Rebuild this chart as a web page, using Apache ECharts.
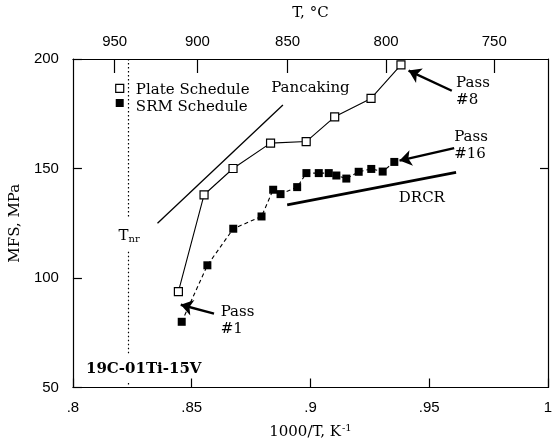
<!DOCTYPE html>
<html>
<head>
<meta charset="utf-8">
<script src="https://cdn.jsdelivr.net/npm/echarts@6.0.0/dist/echarts.min.js"></script>
<style>
  html, body { margin: 0; padding: 0; background: #fff; }
  #chart { width: 556px; height: 445px; }
</style>
</head>
<body>
<div id="chart"></div>
<script>
// 数据
var plateSchedule = [[0.8444, 93.8], [0.8552, 138], [0.8674, 150], [0.8832, 161.6],
  [0.8982, 162.3], [0.9102, 173.6], [0.9255, 182], [0.9381, 197.3]];
var srmSchedule = [[0.8458, 80], [0.8566, 105.8], [0.8675, 122.5], [0.8794, 128.1],
  [0.8843, 140.3], [0.8874, 138.3], [0.8944, 141.5], [0.8983, 147.9], [0.9035, 147.9],
  [0.9077, 147.9], [0.9109, 146.8], [0.9151, 145.4], [0.9203, 148.5], [0.9256, 149.8],
  [0.9304, 148.6], [0.9353, 153]];
var pancakingLine = [[0.8356, 125], [0.8884, 179]];
var drcrLine = [[0.8902, 133.4], [0.9613, 148.2]];
var tnrX = 0.8235;
var tnrSegments = [[200, 127], [112, 65], [52, 50]];
var tempTicks = [950, 900, 850, 800, 750];
var arrows = [
  [[0.9595, 185.5], [0.9413, 194.7]],
  [[0.9605, 159.3], [0.9375, 153.6]],
  [[0.8594, 83.7], [0.8454, 87.8]]
];

var tempPos = tempTicks.map(function (t) { return 1000 / (t + 273.15); });
var serif = 'DejaVu Serif';
var sans = 'Liberation Sans';

var chart = echarts.init(document.getElementById('chart'));

function note(name, x, y, pos, extra) {
  return Object.assign({ name: name, value: [x, y], label: { position: pos } }, extra || {});
}

var option = {
  animation: false,
  grid: { left: 72, right: 8, top: 59, bottom: 57 },
  xAxis: [
    {
      type: 'value', min: 0.8, max: 1.0, interval: 0.05, position: 'bottom',
      axisLine: { lineStyle: { color: '#000', width: 1.2 } },
      axisTick: { inside: true, length: 9, lineStyle: { color: '#000', width: 1.2 } },
      splitLine: { show: false },
      axisLabel: {
        color: '#000', fontFamily: sans, fontSize: 15, margin: 13,
        formatter: function (v) { return parseFloat(v.toFixed(2)).toString().replace(/^0\./, '.'); }
      },
      name: '1000/T, K{sup|-1}', nameLocation: 'middle', nameGap: 36,
      nameTextStyle: {
        color: '#000', fontFamily: serif, fontSize: 15,
        rich: { sup: { fontFamily: serif, fontSize: 10, padding: [0, 0, 8, 1] } }
      }
    },
    {
      type: 'value', min: 0.8, max: 1.0, position: 'top',
      axisLine: { lineStyle: { color: '#000', width: 1.2 } },
      axisTick: { inside: true, length: 14, customValues: tempPos, lineStyle: { color: '#000', width: 1.2 } },
      splitLine: { show: false },
      axisLabel: {
        color: '#000', fontFamily: sans, fontSize: 15, margin: 10, customValues: tempPos,
        formatter: function (v) { return Math.round(1000 / v - 273.15).toString(); }
      },
      name: 'T, °C', nameLocation: 'middle', nameGap: 38,
      nameTextStyle: { color: '#000', fontFamily: serif, fontSize: 15 }
    }
  ],
  yAxis: [
    {
      type: 'value', min: 50, max: 200, interval: 50,
      axisLine: { show: true, lineStyle: { color: '#000', width: 1.2 } },
      axisTick: { show: true, inside: true, length: 9, lineStyle: { color: '#000', width: 1.2 } },
      splitLine: { show: false },
      axisLabel: { color: '#000', fontFamily: sans, fontSize: 15, margin: 14 },
      name: 'MFS, MPa', nameLocation: 'middle', nameGap: 42, nameRotate: 90,
      nameTextStyle: { color: '#000', fontFamily: serif, fontSize: 15 }
    },
    {
      type: 'value', min: 50, max: 200, position: 'right',
      axisLine: { show: true, lineStyle: { color: '#000', width: 1.2 } },
      axisTick: { show: true, inside: true, length: 8, customValues: [150], lineStyle: { color: '#000', width: 1.2 } },
      splitLine: { show: false },
      axisLabel: { show: false }
    }
  ],
  series: [
    {
      name: 'Tnr', type: 'lines', coordinateSystem: 'cartesian2d', silent: true,
      lineStyle: { color: '#000', width: 1.2, type: [1.5, 2.5], opacity: 1 },
      data: tnrSegments.map(function (s) { return { coords: [[tnrX, s[0]], [tnrX, s[1]]] }; })
    },
    {
      name: 'Pancaking', type: 'line', data: pancakingLine, showSymbol: false,
      lineStyle: { color: '#000', width: 1.3 }
    },
    {
      name: 'DRCR', type: 'line', data: drcrLine, showSymbol: false,
      lineStyle: { color: '#000', width: 2.8 }
    },
    {
      name: 'Plate Schedule', type: 'line', data: plateSchedule,
      symbol: 'rect', symbolSize: 8, showAllSymbol: true,
      lineStyle: { color: '#000', width: 1.1 },
      itemStyle: { color: '#fff', borderColor: '#000', borderWidth: 1.2 }
    },
    {
      name: 'SRM Schedule', type: 'line', data: srmSchedule,
      symbol: 'rect', symbolSize: 8, showAllSymbol: true,
      lineStyle: { color: '#000', width: 1.1, type: [4, 3] },
      itemStyle: { color: '#000' }
    },
    {
      name: 'arrows', type: 'lines', coordinateSystem: 'cartesian2d', silent: true,
      symbol: ['none', 'arrow'], symbolSize: [0, 12],
      lineStyle: { color: '#000', width: 2.4, opacity: 1 },
      data: arrows.map(function (a) { return { coords: a }; })
    },
    {
      name: 'legendMarks', type: 'scatter', symbol: 'rect', symbolSize: 8, silent: true,
      data: [
        { value: [0.8197, 186.6], itemStyle: { color: '#fff', borderColor: '#000', borderWidth: 1.2, opacity: 1 } },
        { value: [0.8197, 179.9], itemStyle: { color: '#000', opacity: 1 } }
      ]
    },
    {
      name: 'notes', type: 'scatter', symbolSize: 0, silent: true,
      itemStyle: { opacity: 1 },
      label: {
        show: true, color: '#000', fontFamily: serif, fontSize: 15, distance: 0, lineHeight: 17,
        formatter: function (p) { return p.name; },
        rich: { sub: { fontFamily: serif, fontSize: 10, padding: [7, 0, 0, 0] } }
      },
      data: [
        note('Plate Schedule', 0.8265, 185.8, 'right'),
        note('SRM Schedule', 0.8265, 178.2, 'right'),
        note('Pancaking', 0.9, 186.6, 'inside'),
        note('DRCR', 0.9469, 136.5, 'inside'),
        note('Pass\n#8', 0.9613, 185, 'right'),
        note('Pass\n#16', 0.9605, 160.3, 'right'),
        note('Pass\n#1', 0.8622, 80.5, 'right'),
        note('T{sub|nr}', 0.8237, 119, 'inside'),
        note('19C-01Ti-15V', 0.8055, 58.2, 'right', { label: { position: 'right', fontWeight: 'bold' } })
      ]
    }
  ]
};

chart.setOption(option);
</script>
</body>
</html>
